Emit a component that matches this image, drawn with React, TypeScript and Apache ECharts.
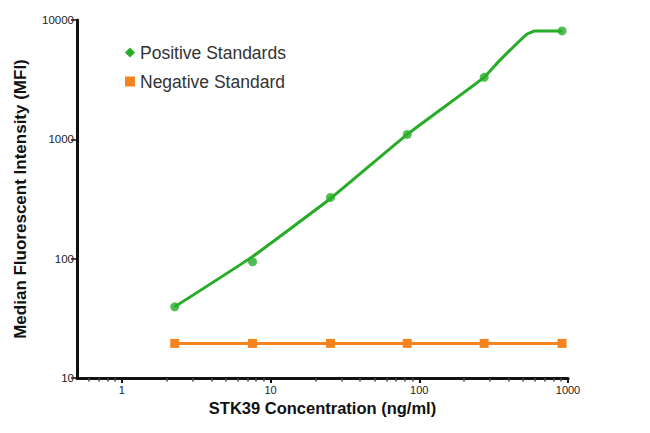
import React, { useEffect, useRef } from "react";
import * as echarts from "echarts";

const posName = "Positive Standards";
const negName = "Negative Standard";
const xTitle = "STK39 Concentration (ng/ml)";
const yTitle = "Median Fluorescent Intensity (MFI)";

// concentrations of the standards (ng/ml)
const concentrations = [2.27, 7.57, 25.3, 83, 273, 912];
const positiveMFI = [39.5, 94, 326, 1100, 3310, 8100];
const negativeMFI = [19.5, 19.5, 19.5, 19.5, 19.5, 19.5];

// fitted curve
const curveX = [2.27, 7.57, 25.3, 83, 273, 344, 530, 600, 912];
const curveY = [39.5, 104, 319, 1100, 3310, 4520, 7620, 8100, 8100];

const xTicks = [1, 10, 100, 1000];
const xMinorTicks = [0.6, 0.7, 0.8, 0.9, 2, 3, 4, 5, 6, 7, 8, 9, 20, 30, 40, 50, 60, 70, 80, 90, 200, 300, 400, 500, 600, 700, 800, 900];
const yTicks = [10, 100, 1000, 10000];

const GREEN = "#27ac27";
const ORANGE = "#f5841f";
const FONT = "'Liberation Sans', Arial, sans-serif";

export default function App() {
  const ref = useRef<HTMLDivElement>(null);
  useEffect(() => {
    if (!ref.current) return;
    const chart = echarts.init(ref.current, undefined, { renderer: "svg" });
    chart.setOption({
      animation: false,
      backgroundColor: "#fff",
      textStyle: { fontFamily: FONT },
      grid: { left: 77, right: 82, top: 20, bottom: 55 },
      legend: {
        orient: "vertical",
        left: 120,
        top: 38,
        itemWidth: 10,
        itemHeight: 10,
        itemGap: 10,
        textStyle: { fontSize: 17.5, color: "#333", fontFamily: FONT, lineHeight: 19 },
        data: [
          { name: posName, icon: "diamond" },
          { name: negName, icon: "rect" },
        ],
      },
      xAxis: [
        {
          type: "log",
          min: 0.5,
          max: 1000,
          position: "bottom",
          name: xTitle,
          nameLocation: "middle",
          nameGap: 19,
          nameTextStyle: { fontSize: 16.5, fontWeight: "bold", color: "#111", fontFamily: FONT },
          axisLine: { show: true, lineStyle: { color: "#111", width: 3 } },
          axisTick: { show: true, length: 5, lineStyle: { color: "#111", width: 2 }, customValues: xTicks },
          axisLabel: {
            fontSize: 11,
            color: "#222",
            margin: 6,
            customValues: xTicks,
            formatter: (v: number) => String(v),
          },
          splitLine: { show: false },
          minorTick: { show: false },
        },
        {
          type: "log",
          min: 0.5,
          max: 1000,
          position: "bottom",
          axisLine: { show: false },
          axisTick: { show: true, length: 3.5, lineStyle: { color: "#444", width: 1.5 }, customValues: xMinorTicks },
          axisLabel: { show: false },
          splitLine: { show: false },
        },
      ],
      yAxis: {
        type: "log",
        min: 10,
        max: 10000,
        name: yTitle,
        nameLocation: "middle",
        nameGap: 48,
        nameTextStyle: { fontSize: 17, fontWeight: "bold", color: "#111", fontFamily: FONT },
        axisLine: { show: true, lineStyle: { color: "#111", width: 3 } },
        axisTick: { show: true, length: 6, lineStyle: { color: "#111", width: 1.5 }, customValues: yTicks },
        axisLabel: {
          fontSize: 11.5,
          color: "#222",
          margin: 3,
          customValues: yTicks,
          formatter: (v: number) => String(v),
        },
        splitLine: { show: false },
      },
      series: [
        {
          name: posName,
          type: "line",
          data: curveX.map((x, i) => [x, curveY[i]]),
          showSymbol: false,
          symbol: "none",
          lineStyle: { color: GREEN, width: 3 },
          itemStyle: { color: GREEN },
          smooth: 0.1,
          z: 2,
        },
        {
          name: posName,
          type: "scatter",
          data: concentrations.map((x, i) => [x, positiveMFI[i]]),
          symbol: "circle",
          symbolSize: 9,
          itemStyle: { color: GREEN },
          z: 3,
        },
        {
          name: negName,
          type: "line",
          data: concentrations.map((x, i) => [x, negativeMFI[i]]),
          symbol: "rect",
          symbolSize: 9,
          showSymbol: true,
          lineStyle: { color: ORANGE, width: 3 },
          itemStyle: { color: ORANGE },
          z: 2,
        },
      ],
    });
    return () => chart.dispose();
  }, []);
  return <div ref={ref} style={{ position: "fixed", left: 0, top: 0, width: 650, height: 433 }} />;
}
